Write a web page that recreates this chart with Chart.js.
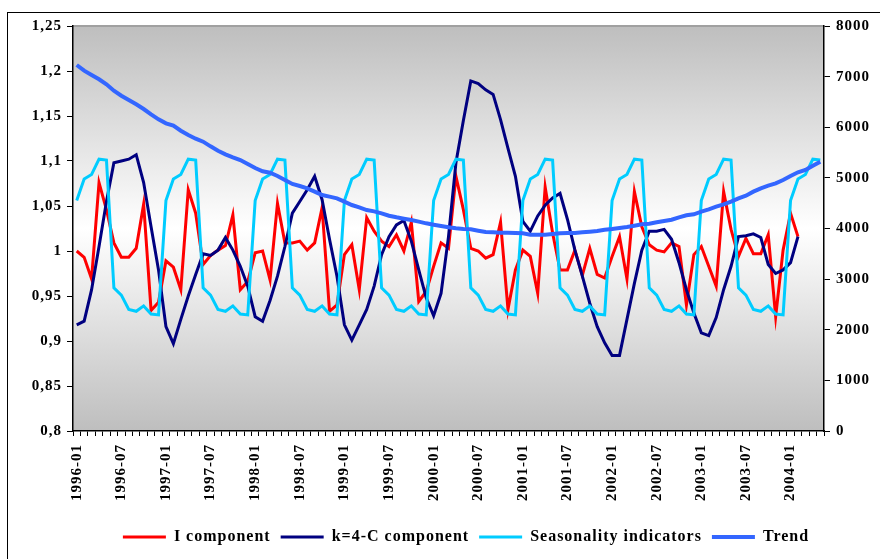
<html>
<head>
	<meta charset="utf-8">
	<title>I, C, seasonality and trend components</title>
	<style type="text/css">
		body { margin: 0; background: #fff; overflow: hidden; }
		#frame { position: absolute; left: 7px; top: 12px; width: 900px; height: 600px; border: 1px solid #000; }
		#chart { position: absolute; left: 0; top: 0; }
	</style>
</head>
<body>
	<div id="frame"></div>
	<canvas id="chart" width="880" height="559"></canvas>

	<script src="https://cdn.jsdelivr.net/npm/chart.js@4/dist/chart.umd.min.js"></script>
	<script type="text/javascript">
	// months 1996-01 .. 2004-05
	var months = [];
	for (var yr = 1996; yr <= 2004; yr++) {
		for (var mo = 1; mo <= 12; mo++) {
			if (months.length < 101) months.push(yr + "-" + (mo < 10 ? "0" + mo : mo));
		}
	}

	var iComponent = [
		1.000, 0.993, 0.969, 1.076, 1.046, 1.009, 0.993, 0.993, 1.003, 1.052, 0.934, 0.943,
		0.989, 0.982, 0.957, 1.068, 1.042, 0.985, 0.995, 1.001, 1.006, 1.040, 0.957, 0.966,
		0.998, 1.000, 0.968, 1.053, 1.009, 1.009, 1.011, 1.001, 1.009, 1.048, 0.933, 0.940,
		0.996, 1.007, 0.957, 1.037, 1.022, 1.011, 1.005, 1.018, 1.000, 1.032, 0.944, 0.955,
		0.983, 1.009, 1.003, 1.083, 1.046, 1.003, 1.000, 0.992, 0.996, 1.032, 0.935, 0.979,
		1.001, 0.994, 0.953, 1.071, 1.020, 0.979, 0.979, 1.001, 0.973, 1.003, 0.974, 0.970,
		0.994, 1.016, 0.969, 1.066, 1.027, 1.007, 1.001, 0.999, 1.009, 1.005, 0.940, 0.996,
		1.005, 0.983, 0.961, 1.066, 1.024, 0.994, 1.014, 0.997, 0.997, 1.018, 0.927, 1.001,
		1.042, 1.016, null, null, null
	];

	var cComponent = [
		0.918, 0.922, 0.957, 1.005, 1.055, 1.098, 1.100, 1.102, 1.107, 1.076, 1.027, 0.979,
		0.916, 0.897, 0.924, 0.950, 0.974, 0.997, 0.995, 1.001, 1.015, 1.001, 0.983, 0.961,
		0.927, 0.922, 0.945, 0.972, 1.005, 1.042, 1.055, 1.068, 1.083, 1.057, 1.013, 0.972,
		0.918, 0.901, 0.918, 0.935, 0.961, 0.996, 1.016, 1.029, 1.034, 1.011, 0.979, 0.948,
		0.928, 0.953, 1.016, 1.098, 1.145, 1.189, 1.186, 1.179, 1.174, 1.146, 1.114, 1.083,
		1.033, 1.022, 1.039, 1.051, 1.059, 1.064, 1.035, 1.001, 0.972, 0.942, 0.916, 0.898,
		0.884, 0.884, 0.924, 0.964, 1.001, 1.022, 1.022, 1.024, 1.013, 0.987, 0.957, 0.931,
		0.909, 0.906, 0.926, 0.957, 0.983, 1.016, 1.017, 1.019, 1.015, 0.985, 0.975, 0.979,
		0.987, 1.016, null, null, null
	];

	var seasonality = [
		1.056, 1.080, 1.085, 1.102, 1.101, 0.959, 0.951, 0.935, 0.933, 0.939, 0.930, 0.929,
		1.056, 1.080, 1.085, 1.102, 1.101, 0.959, 0.951, 0.935, 0.933, 0.939, 0.930, 0.929,
		1.056, 1.080, 1.085, 1.102, 1.101, 0.959, 0.951, 0.935, 0.933, 0.939, 0.930, 0.929,
		1.056, 1.080, 1.085, 1.102, 1.101, 0.959, 0.951, 0.935, 0.933, 0.939, 0.930, 0.929,
		1.056, 1.080, 1.085, 1.102, 1.101, 0.959, 0.951, 0.935, 0.933, 0.939, 0.930, 0.929,
		1.056, 1.080, 1.085, 1.102, 1.101, 0.959, 0.951, 0.935, 0.933, 0.939, 0.930, 0.929,
		1.056, 1.080, 1.085, 1.102, 1.101, 0.959, 0.951, 0.935, 0.933, 0.939, 0.930, 0.929,
		1.056, 1.080, 1.085, 1.102, 1.101, 0.959, 0.951, 0.935, 0.933, 0.939, 0.930, 0.929,
		1.056, 1.080, 1.085, 1.102, 1.101
	];

	var trend = [
		7229, 7117, 7032, 6947, 6848, 6722, 6623, 6538, 6453, 6360, 6256, 6157,
		6078, 6031, 5932, 5847, 5774, 5715, 5623, 5537, 5465, 5406, 5353, 5274,
		5195, 5130, 5103, 5037, 4958, 4879, 4840, 4794, 4728, 4662, 4629, 4596,
		4530, 4464, 4418, 4365, 4339, 4300, 4253, 4221, 4194, 4168, 4135, 4102,
		4075, 4049, 4023, 4003, 3990, 3984, 3957, 3931, 3924, 3918, 3918, 3911,
		3905, 3878, 3878, 3878, 3892, 3905, 3911, 3911, 3924, 3937, 3951, 3977,
		3990, 4010, 4030, 4056, 4082, 4095, 4122, 4148, 4174, 4221, 4260, 4280,
		4332, 4379, 4431, 4478, 4530, 4596, 4649, 4728, 4794, 4846, 4892, 4958,
		5037, 5110, 5156, 5241, 5320
	];

	var FONT = "'Liberation Serif', 'Times New Roman', serif";

	// grey - white - grey plot background, letter spacing, legend nudge
	var plotBg = {
		id: "plotBg",
		beforeLayout: function (chart) { chart.ctx.letterSpacing = "1px"; },
		afterLayout: function (chart) { chart.legend.left += 44; },
		beforeDraw: function (chart) {
			var a = chart.chartArea, ctx = chart.ctx;
			ctx.letterSpacing = "1px";
			var g = ctx.createLinearGradient(0, a.top, 0, a.bottom);
			g.addColorStop(0, "#bebebe");
			g.addColorStop(0.5, "#ffffff");
			g.addColorStop(1, "#bebebe");
			ctx.save();
			ctx.fillStyle = g;
			ctx.fillRect(a.left, a.top, a.right - a.left, a.bottom - a.top);
			ctx.fillStyle = "#a0a0a0";
			ctx.fillRect(a.left, a.top - 1, a.right - a.left, 2);
			ctx.restore();
		}
	};

	function line(label, data, color, width, axis, order) {
		return {
			label: label, data: data, yAxisID: axis, order: order,
			borderColor: color, backgroundColor: color, borderWidth: width,
			pointRadius: 0, tension: 0, spanGaps: false
		};
	}

	new Chart(document.getElementById("chart"), {
		type: "line",
		data: {
			labels: months,
			datasets: [
				line("I component", iComponent, "#ff0000", 3, "y", 4),
				line("k=4-C component", cComponent, "#000080", 3, "y", 3),
				line("Seasonality indicators", seasonality, "#00ccff", 3, "y", 2),
				line("Trend", trend, "#3366ff", 4, "y1", 1)
			]
		},
		options: {
			responsive: false,
			animation: false,
			layout: { padding: { left: 8, top: 26, right: 0, bottom: 4 } },
			plugins: {
				legend: {
					position: "bottom",
					labels: {
						usePointStyle: true, pointStyle: "line", pointStyleWidth: 43,
						boxHeight: 16, padding: 10, color: "#000",
						font: { family: FONT, size: 16, weight: "bold" },
						sort: function (a, b) { return a.datasetIndex - b.datasetIndex; }
					}
				},
				tooltip: { enabled: false }
			},
			scales: {
				x: {
					offset: true,
					grid: { offset: true, drawOnChartArea: false, tickLength: 5, color: "#000" },
					border: { color: "#000", width: 1.5 },
					ticks: {
						autoSkip: false, maxRotation: 90, minRotation: 90, padding: 8, color: "#000",
						font: { family: FONT, size: 15, weight: "bold" },
						callback: function (v, i) { return i % 6 === 0 ? this.getLabelForValue(v) : ""; }
					},
					afterFit: function (s) { s.height = 88; }
				},
				y: {
					position: "left", min: 0.8, max: 1.25,
					grid: { drawOnChartArea: false, tickLength: 6, color: "#000" },
					border: { color: "#000", width: 1.5 },
					ticks: {
						stepSize: 0.05, padding: 5, color: "#000",
						font: { family: FONT, size: 15, weight: "bold" },
						callback: function (v) { return String(Math.round(v * 100) / 100).replace(".", ","); }
					},
					afterFit: function (s) { s.width = 65; }
				},
				y1: {
					position: "right", min: 0, max: 8000,
					grid: { drawOnChartArea: false, tickLength: 6, color: "#000" },
					border: { color: "#000", width: 1.5 },
					ticks: {
						stepSize: 1000, padding: 6, color: "#000",
						font: { family: FONT, size: 15, weight: "bold" },
						callback: function (v) { return String(v); }
					},
					afterFit: function (s) { s.width = 56; }
				}
			}
		},
		plugins: [plotBg]
	});
	</script>
</body>
</html>
